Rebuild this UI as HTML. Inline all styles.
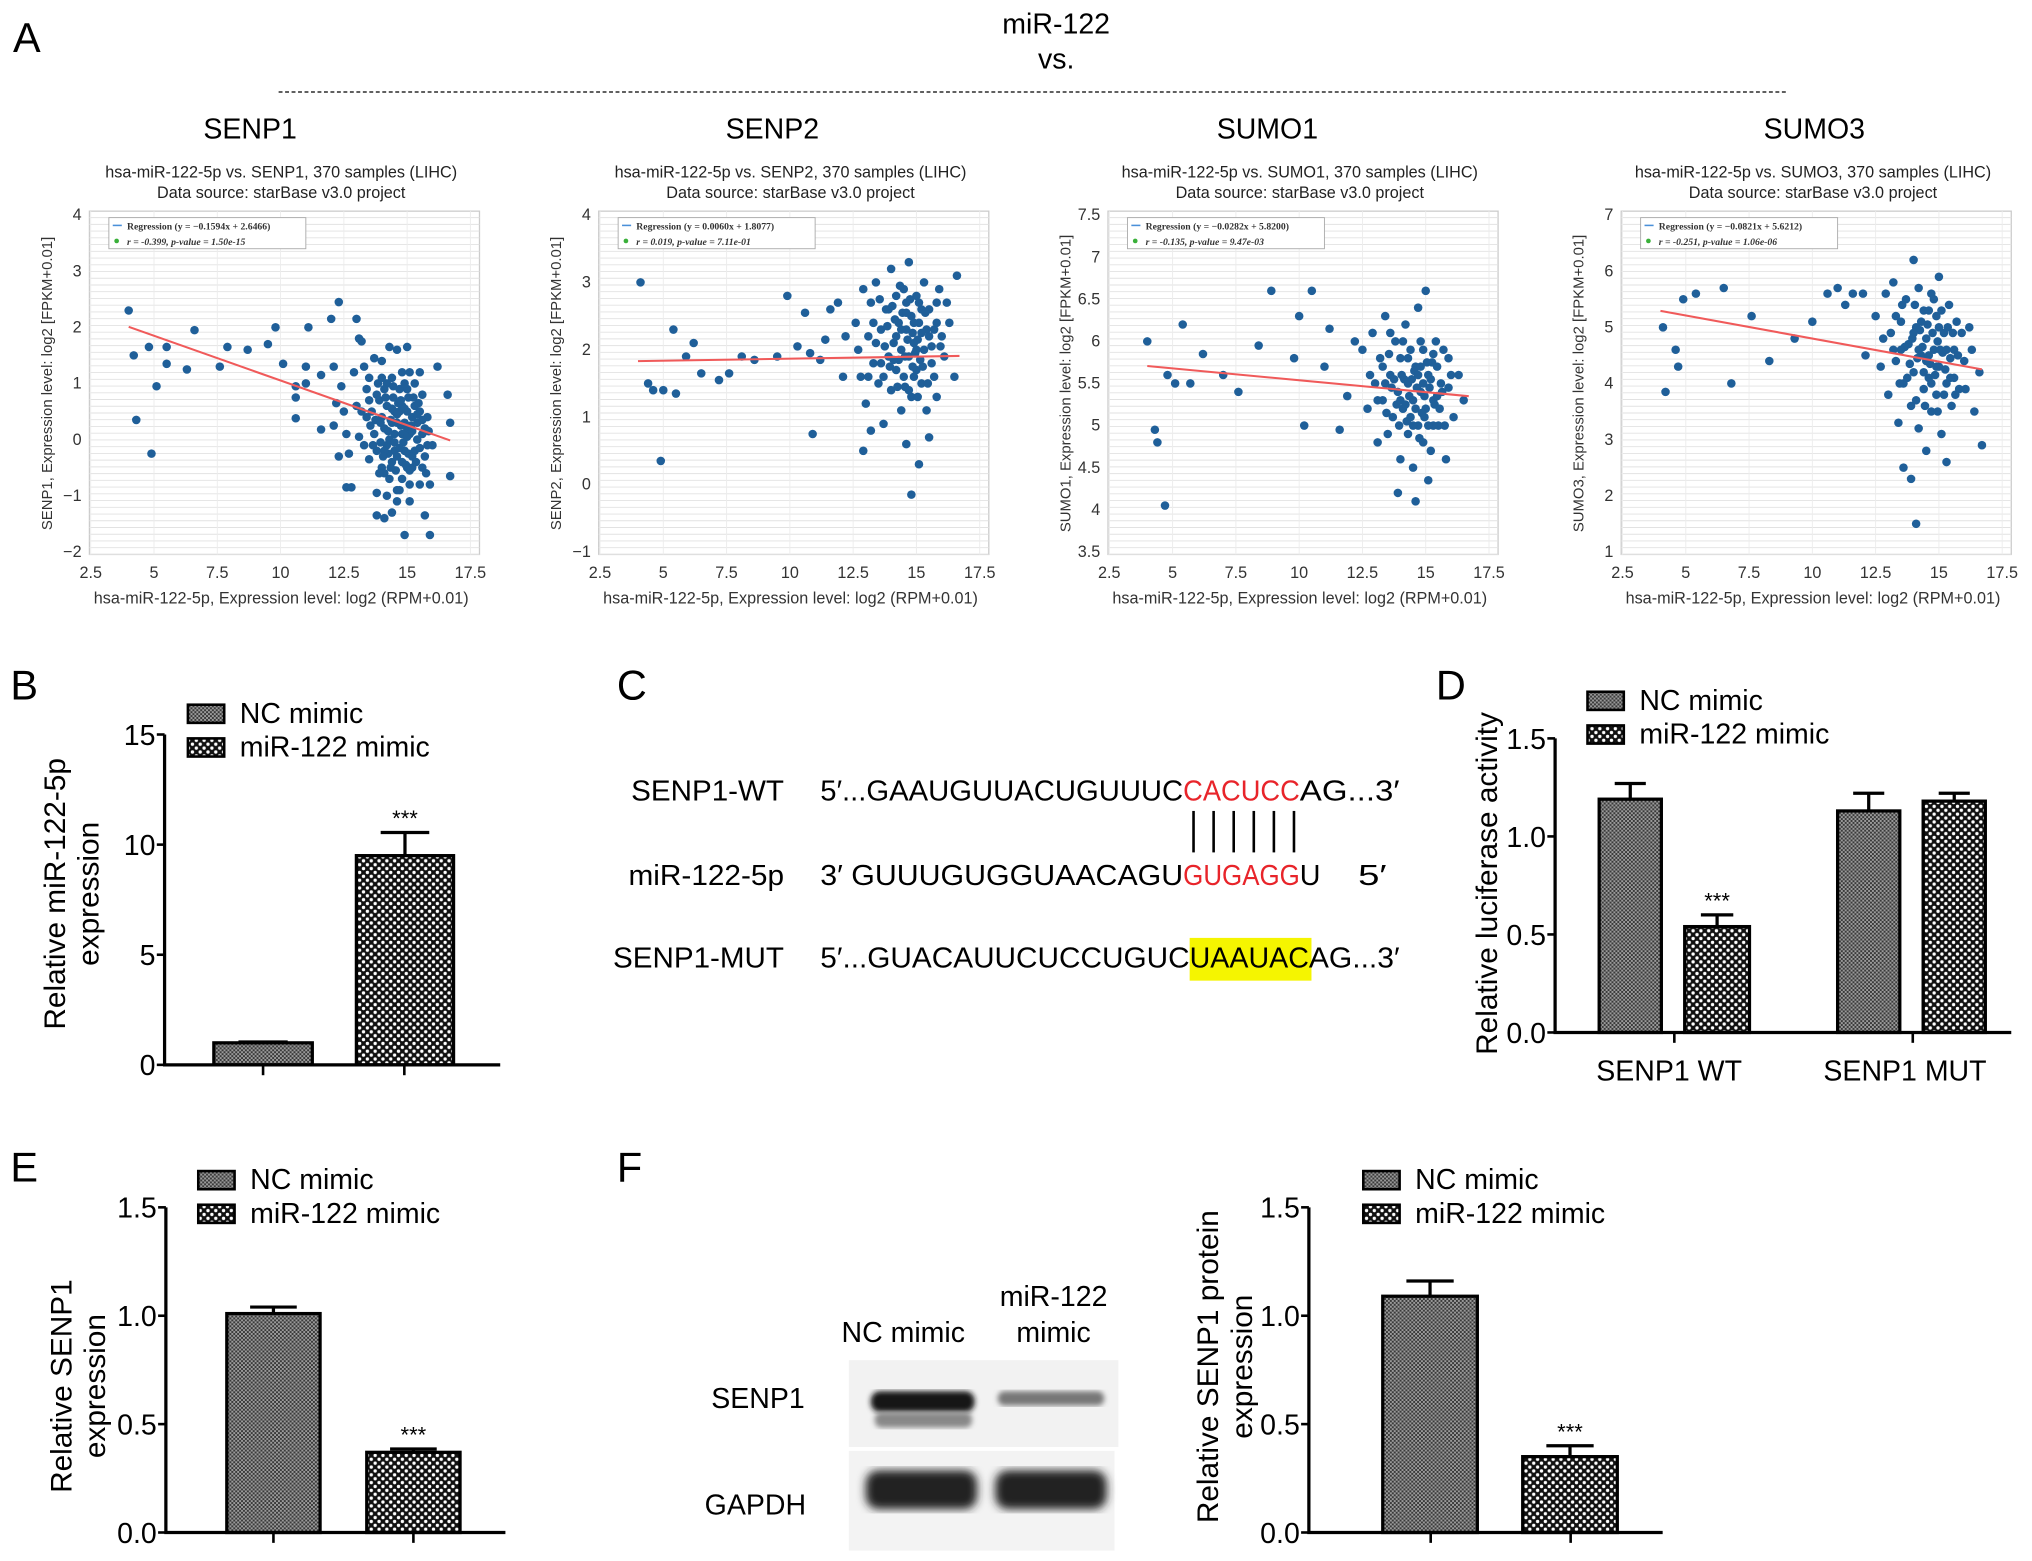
<!DOCTYPE html>
<html><head><meta charset="utf-8"><style>
html,body{margin:0;padding:0;background:#fff;}
svg{display:block;font-family:"Liberation Sans",Arial,sans-serif;}
</style></head><body>
<svg id="fig" width="2032" height="1561" viewBox="0 0 1568 1205" preserveAspectRatio="none" xmlns="http://www.w3.org/2000/svg">
<defs>
<pattern id="patNC" width="3" height="3" patternUnits="userSpaceOnUse">
<rect width="3" height="3" fill="#9a9a9a"/><rect width="1.5" height="1.5" fill="#3a3a3a"/><rect x="1.5" y="1.5" width="1.5" height="1.5" fill="#3a3a3a"/>
</pattern>
<pattern id="patMIR" width="6" height="6" patternUnits="userSpaceOnUse">
<rect width="6" height="6" fill="#111"/><circle cx="1.5" cy="1.5" r="1.3" fill="#fff"/><circle cx="4.5" cy="4.5" r="1.3" fill="#fff"/>
</pattern>
<filter id="blur2"><feGaussianBlur stdDeviation="3.5"/></filter>
<filter id="blur1"><feGaussianBlur stdDeviation="2"/></filter>
</defs>
<g id="root"></g>
</svg>
<script>
// ---------- scatter data ----------
const p1Pts=[4,2.3,4.2,1.5,4.3,0.35,4.8,1.65,4.9,-0.25,5.1,0.95,5.5,1.65,5.5,1.35,6.3,1.25,6.6,1.95,7.6,1.3,7.9,1.65,8.7,1.6,9.5,1.7,9.8,2.0,10.1,1.35,10.6,0.95,10.6,0.75,10.6,0.38,11.0,1.3,11.0,1.0,11.1,2.0,11.6,1.15,11.6,0.18,12.0,2.15,12.1,1.3,12.3,2.45,12.2,0.65,12.1,0.25,12.4,0.95,12.5,0.5,12.6,0.1,12.3,-0.3,12.7,-0.25,12.6,-0.85,12.8,-0.85,13.0,2.15,13.1,1.8,13.2,1.75,12.9,1.2,13.0,0.6,13.1,0.05,13.3,1.3,13.4,0.4,13.5,-0.35,13.7,1.45,13.8,0.8,13.8,-0.95,13.8,-1.35,14.0,1.4,14.1,-0.6,14.2,1.0,14.1,-1.4,14.2,-1.0,14.3,1.65,14.4,0.3,14.5,-0.2,14.4,-1.3,14.6,1.6,14.6,-0.9,14.7,0.5,14.8,1.2,14.8,-0.4,14.9,-1.7,15.0,1.65,15.0,0.9,15.0,0.2,15.1,-1.1,15.2,-0.5,15.3,0.6,15.4,0.3,15.5,1.2,15.5,-0.8,15.6,0.8,15.7,-0.3,15.8,0.4,15.7,-1.35,15.9,-1.7,15.9,-0.8,16.0,-0.1,16.2,1.3,16.6,0.8,16.7,0.3,16.7,-0.65,
13.6,0.5,13.7,0.1,13.8,-0.2,13.9,0.7,14.0,0.4,14.0,-0.5,14.1,0.9,14.1,0.2,14.2,-0.1,14.2,0.6,14.3,-0.7,14.3,0.0,14.4,1.1,14.4,-0.4,14.5,0.5,14.5,0.1,14.6,-0.3,14.6,0.3,14.7,0.9,14.7,-0.9,14.8,0.1,14.8,0.6,14.9,-0.2,14.9,1.0,15.0,-0.5,15.0,0.5,15.1,0.1,15.1,-0.8,15.2,0.4,15.3,-0.2,15.3,1.0,15.4,0.0,15.5,0.5,15.6,-0.5,15.7,0.2,15.8,-0.1,13.4,0.9,13.3,-0.1,13.2,0.5,13.5,1.1,14.35,0.35,14.65,0.65,14.25,-0.25,14.55,-0.55,14.85,-0.05,15.15,0.25,14.45,0.75,14.75,0.25,15.05,-0.25,13.95,-0.05,14.4,0.55,14.9,0.3,15.2,-0.3,14.1,-0.2,13.75,0.35,15.45,0.65,15.6,0.1,
13.5,0.7,13.65,-0.1,13.85,1.0,13.95,0.3,14.05,-0.3,14.15,0.75,14.25,0.15,14.35,-0.5,14.45,0.95,14.5,-0.05,14.6,0.45,14.7,-0.15,14.75,0.7,14.8,-0.7,14.9,0.55,14.95,-0.45,15.0,0.05,15.05,0.75,15.1,-0.55,15.2,0.15,15.25,0.75,15.35,-0.4,15.4,0.45,15.5,-0.15,15.6,0.35,15.75,-0.6,15.85,0.15,13.55,0.25,14.0,1.1,15.1,1.2,13.9,-0.6,14.6,-1.1];
const p2Pts=[4.1,3.0,4.4,1.5,4.6,1.4,5.0,1.4,4.9,0.35,5.4,2.3,5.5,1.35,5.9,1.9,6.2,2.1,6.5,1.65,7.2,1.55,7.6,1.65,8.1,1.9,8.6,1.85,9.5,1.9,9.9,2.8,10.3,2.05,10.6,2.55,10.8,1.95,10.9,0.75,11.2,1.85,11.4,2.15,11.6,2.6,11.9,2.7,12.1,1.6,12.2,2.2,
12.6,2.4,12.8,1.6,12.9,2.9,13.0,1.2,13.1,2.2,13.2,2.7,13.3,1.8,13.4,3.0,13.5,1.5,13.6,2.3,13.7,0.9,13.8,2.6,13.9,1.9,14.0,3.2,14.0,1.4,14.1,2.1,14.2,2.8,14.2,1.7,14.3,2.4,14.4,1.1,14.4,2.0,14.5,2.9,14.5,1.6,14.6,2.3,14.6,0.6,14.7,1.9,14.7,3.3,14.8,2.5,14.8,1.3,14.9,2.1,15.0,2.8,15.0,1.7,15.1,0.3,15.1,2.4,15.2,1.5,15.3,2.0,15.3,3.0,15.4,1.1,15.5,2.6,15.6,1.8,15.7,2.3,15.8,1.3,15.9,2.9,16.1,1.9,16.3,2.4,16.5,1.6,16.6,3.1,14.8,-0.15,14.3,1.85,14.65,2.15,14.95,1.95,14.15,2.45,14.85,2.25,15.15,1.85,13.75,2.05,14.45,2.55,15.05,2.15,13.95,1.75,14.55,1.45,12.9,0.5,13.2,0.8,15.5,0.7,13.3,2.4,13.6,1.8,14.2,2.2,14.9,1.6,15.4,2.3,16.0,2.2,15.8,2.7,13.9,2.6,14.6,2.7,15.2,2.6,
13.4,2.1,13.55,2.75,13.7,1.6,13.85,2.35,14.05,2.65,14.1,1.85,14.25,1.45,14.35,2.95,14.4,2.3,14.55,1.9,14.6,2.55,14.7,1.4,14.75,2.75,14.85,1.75,14.9,2.4,15.0,2.0,15.05,1.3,15.1,2.7,15.2,2.25,15.25,1.75,15.35,2.55,15.45,1.5,15.5,2.2,15.6,2.05,15.7,1.6,15.8,2.4,15.95,2.05,16.2,2.7,13.1,1.6,12.7,2.0];
const p3Pts=[4.0,6.0,4.3,4.95,4.4,4.8,4.8,5.6,4.7,4.05,5.1,5.5,5.4,6.2,5.7,5.5,6.2,5.85,7.0,5.6,7.6,5.4,8.4,5.95,8.9,6.6,9.8,5.8,10.0,6.3,10.2,5.0,10.5,6.6,11.0,5.7,11.2,6.15,11.6,4.95,11.9,5.35,12.2,6.0,
12.5,5.9,12.7,5.2,12.9,6.1,13.0,5.5,13.1,4.8,13.2,5.8,13.3,5.3,13.4,6.3,13.5,4.9,13.6,5.6,13.7,5.1,13.8,6.0,13.9,5.4,14.0,4.6,14.0,5.8,14.1,5.2,14.2,6.2,14.3,5.5,14.3,4.9,14.4,5.9,14.5,5.3,14.5,4.5,14.6,5.7,14.7,5.0,14.7,6.4,14.8,5.4,14.9,5.9,14.9,4.8,15.0,5.2,15.0,6.6,15.1,5.6,15.2,4.7,15.3,5.3,15.4,6.0,15.5,5.0,15.6,5.5,15.8,4.6,15.9,5.8,16.1,5.1,16.3,5.6,16.5,5.3,14.35,5.35,14.65,5.45,14.95,5.35,14.15,5.55,14.85,5.15,15.15,5.45,13.85,5.25,14.55,5.65,15.25,5.75,13.65,5.45,14.25,5.05,15.45,5.35,14.6,4.1,13.9,4.2,15.1,4.35,13.4,5.5,14.0,5.3,14.8,5.7,15.3,5.0,15.7,5.9,14.4,5.1,13.6,6.1,
13.45,5.15,13.55,5.85,13.75,5.55,13.95,5.0,14.05,5.6,14.1,6.0,14.2,5.25,14.3,5.8,14.45,5.55,14.5,5.0,14.6,5.2,14.7,5.6,14.75,4.85,14.8,6.0,14.9,5.5,14.95,5.1,15.05,5.75,15.1,5.0,15.2,5.55,15.3,5.85,15.35,5.25,15.45,5.7,15.55,5.2,15.65,5.4,15.75,5.0,15.9,5.45,16.0,5.6,13.3,5.7,13.1,5.3,12.8,5.6];
const p4Pts=[4.1,5.0,4.2,3.85,4.6,4.6,4.7,4.3,4.9,5.5,5.4,5.6,6.5,5.7,6.8,4.0,7.6,5.2,8.3,4.4,9.3,4.8,10.0,5.1,10.6,5.6,11.0,5.7,11.3,5.4,11.6,5.6,12.0,5.6,12.1,4.5,
12.5,5.2,12.7,4.3,12.9,5.6,13.0,3.8,13.1,4.9,13.2,5.8,13.3,4.4,13.4,3.3,13.5,5.1,13.6,4.0,13.7,5.5,13.8,4.7,13.9,3.6,14.0,6.2,14.0,4.2,14.1,5.0,14.2,3.2,14.2,5.7,14.3,4.5,14.4,3.9,14.4,5.3,14.5,4.8,14.5,2.8,14.6,4.1,14.7,5.6,14.7,3.5,14.8,4.6,14.9,5.2,14.9,3.8,15.0,4.3,15.0,5.9,15.1,3.1,15.2,4.9,15.3,4.0,15.4,5.4,15.5,3.6,15.6,4.6,15.7,5.1,15.8,3.9,16.0,4.4,16.2,5.0,16.4,3.5,16.6,4.2,16.7,2.9,14.35,4.65,14.65,4.35,14.95,4.75,14.15,4.45,14.85,4.15,15.15,4.55,13.85,4.35,14.55,5.05,15.25,4.25,13.65,4.65,14.25,4.95,15.45,4.45,13.6,2.5,13.9,2.3,14.1,1.5,15.3,2.6,13.5,4.6,14.0,4.9,14.6,4.5,15.0,5.0,15.6,4.1,14.4,4.2,13.2,4.6,
13.45,4.0,13.55,5.4,13.75,4.1,13.95,4.8,14.05,5.4,14.1,3.7,14.2,4.6,14.3,5.1,14.45,3.6,14.5,4.4,14.6,5.3,14.7,4.0,14.75,4.9,14.8,5.5,14.9,4.3,14.95,3.5,15.05,4.6,15.1,5.3,15.2,3.8,15.3,4.6,15.35,5.0,15.45,4.1,15.55,4.9,15.65,3.8,15.75,4.5,15.9,4.9,16.05,3.9,16.3,4.6,13.3,5.2,12.8,4.8];
const regSlopes=[-0.1594,0.0060,-0.0282,-0.0821];
const regIntercepts=[2.6466,1.8077,5.8200,5.6212];
const genes=["SENP1","SENP2","SUMO1","SUMO3"];
const statText=["r = -0.399, p-value = 1.50e-15","r = 0.019, p-value = 7.11e-01","r = -0.135, p-value = 9.47e-03","r = -0.251, p-value = 1.06e-06"];
const yMins=[-2,-1,3.5,1];
const yMaxs=[4,4,7.5,7];
const yTickLists=[[-2,-1,0,1,2,3,4],[-1,0,1,2,3,4],[3.5,4,4.5,5,5.5,6,6.5,7,7.5],[1,2,3,4,5,6,7]];
const xTicks=[2.5,5,7.5,10,12.5,15,17.5];
// ---------- bar data ----------
const bCats=["NC mimic","miR-122 mimic"], bVals=[1.0,9.5], bErrs=[0.04,1.05];
const dCats=["SENP1 WT","SENP1 MUT"], dNC=[1.19,1.13], dNCerr=[0.08,0.09], dMIR=[0.54,1.18], dMIRerr=[0.06,0.04];
const eVals=[1.01,0.37], eErrs=[0.03,0.015];
const fVals=[1.09,0.35], fErrs=[0.07,0.05];

const NS="http://www.w3.org/2000/svg";
const root=document.getElementById('root');
function el(tag,attrs,parent,txt){const e=document.createElementNS(NS,tag);for(const k in attrs)e.setAttribute(k,attrs[k]);if(txt!==undefined)e.textContent=txt;(parent||root).appendChild(e);return e;}
function fmt(v){return (v<0?'\u2212':'')+Math.abs(v);}

let t;
t=el('text',{x:10,y:40,'font-size':32},root,'A');

t=el('text',{x:815,y:26,'font-size':22,'text-anchor':'middle'},root,'miR-122');

t=el('text',{x:815,y:53,'font-size':22,'text-anchor':'middle'},root,'vs.');

t=el('line',{x1:215,y1:71,x2:1380,y2:71,stroke:'#000','stroke-width':1,'stroke-dasharray':'3,2'});


const offsets=[0,393,786,1182];
const titleX=[193,596,978,1400];
for(let i=0;i<4;i++){
  const ox=offsets[i];
  const g=el('g',{});
  
  const X=v=>ox+70+(v-2.5)/15*293;
  const Y=v=>426-(v-yMins[i])/(yMaxs[i]-yMins[i])*260;
  t=el('text',{x:titleX[i],y:107,'font-size':22,'text-anchor':'middle'},g,genes[i]);
  
  t=el('text',{x:ox+217,y:137,'font-size':12.5,'text-anchor':'middle',fill:'#222'},g,'hsa-miR-122-5p vs. '+genes[i]+', 370 samples (LIHC)');
  
  t=el('text',{x:ox+217,y:153,'font-size':12.5,'text-anchor':'middle',fill:'#222'},g,'Data source: starBase v3.0 project');
  
  const bx0=ox+69,bx1=ox+370,by0=163,by1=428;
  t=el('rect',{x:bx0,y:by0,width:bx1-bx0,height:by1-by0,fill:'#fff',stroke:'#ccc','stroke-width':1},g);
  
  for(let yy=by0+5;yy<by1;yy+=5.2){el('line',{x1:bx0,x2:bx1,y1:yy,y2:yy,stroke:'#e2e2e2','stroke-width':0.7},g);}
  for(const v of xTicks){el('line',{x1:X(v),x2:X(v),y1:by0,y2:by1,stroke:'#ececec','stroke-width':0.7},g);}
  for(const v of xTicks){
    t=el('text',{x:X(v),y:446,'font-size':12.5,'text-anchor':'middle',fill:'#333'},g,String(v));
    
  }
  for(const v of yTickLists[i]){
    t=el('text',{x:ox+63,y:Y(v)+4,'font-size':12.5,'text-anchor':'end',fill:'#333'},g,fmt(v));
    
  }
  t=el('text',{x:ox+217,y:466,'font-size':12.5,'text-anchor':'middle',fill:'#333'},g,'hsa-miR-122-5p, Expression level: log2 (RPM+0.01)');
  
  t=el('text',{x:0,y:0,'font-size':11.5,'text-anchor':'middle',fill:'#333',transform:`translate(${ox+40},${296}) rotate(-90)`},g,genes[i]+', Expression level: log2 [FPKM+0.01]');
  
  const pts=[p1Pts,p2Pts,p3Pts,p4Pts][i];
  for(let k=0;k<pts.length;k+=2){
    t=el('circle',{cx:X(pts[k]),cy:Y(pts[k+1]),r:3.3,fill:'#1f5f99'},g);
    
  }
  t=el('line',{x1:X(4),y1:Y(regSlopes[i]*4+regIntercepts[i]),x2:X(16.7),y2:Y(regSlopes[i]*16.7+regIntercepts[i]),stroke:'#f05a5a','stroke-width':1.6},g);
  
  const lg=el('g',{},g);
  
  el('rect',{x:ox+84,y:168,width:152,height:24,fill:'#fff',stroke:'#aaa','stroke-width':0.7},lg);
  el('line',{x1:ox+87,x2:ox+94,y1:174,y2:174,stroke:'#4a90d9','stroke-width':1.2},lg);
  el('text',{x:ox+98,y:177,'font-size':7.5,'font-family':'Liberation Serif','font-weight':'bold',fill:'#333'},lg,'Regression (y = '+(regSlopes[i]<0?'\u2212':'')+Math.abs(regSlopes[i]).toFixed(4)+'x + '+regIntercepts[i].toFixed(4)+')');
  el('circle',{cx:ox+90,cy:186,r:1.8,fill:'#3ab03a'},lg);
  el('text',{x:ox+98,y:189,'font-size':7.5,'font-family':'Liberation Serif','font-style':'italic','font-weight':'bold',fill:'#333'},lg,statText[i]);
}

function barChart(o){
  const g=el('g',{});
  
  const Y=v=>o.y0-(v/o.max)*(o.y0-o.y1);
  o.bars.forEach(b=>{
    const r=el('rect',{x:b.x,y:Y(b.v),width:b.w,height:o.y0-Y(b.v),fill:b.fill,stroke:'#000','stroke-width':2.5},g);
    
    const cx=b.x+b.w/2;
    const eb=el('path',{d:`M${cx},${Y(b.v)} V${Y(b.v+b.e)} M${cx-b.w/4},${Y(b.v+b.e)} H${cx+b.w/4}`,stroke:'#000','stroke-width':2.5,fill:'none'},g);
    
    if(b.star){const s=el('text',{x:cx,y:Y(b.v+b.e)-5,'font-size':17,'text-anchor':'middle'},g,'***');
      }
  });
  const ax=el('path',{d:`M${o.ax},${o.y1} V${o.y0} H${o.xEnd}`,stroke:'#000','stroke-width':2.5,fill:'none'},g);
  
  o.ticks.forEach((v,k)=>{
    el('line',{x1:o.ax-6,x2:o.ax,y1:Y(v),y2:Y(v),stroke:'#000','stroke-width':2},g);
    const tl=el('text',{x:o.ax-7,y:Y(v)+8,'font-size':22,'text-anchor':'end'},g,o.tickLabels[k]);
    
  });
  o.xticks.forEach(x=>el('line',{x1:x,x2:x,y1:o.y0,y2:o.y0+8,stroke:'#000','stroke-width':2},g));
  (o.xlabels||[]).forEach(l=>{const tl=el('text',{x:l.x,y:o.y0+37,'font-size':22,'text-anchor':'middle'},g,l.t);
    });
  o.ytitle.forEach((line,k)=>{
    const tt=el('text',{x:0,y:0,'font-size':23,'text-anchor':'middle',transform:`translate(${o.tx+k*26},${o.ty}) rotate(-90)`},g,line);
    
  });
  const lg=el('g',{},g);
  
  [['patNC','NC mimic'],['patMIR','miR-122 mimic']].forEach((p,k)=>{
    const yy=o.ly+k*26;
    const r=el('rect',{x:o.lx,y:yy-13,width:28,height:14,fill:'url(#'+p[0]+')',stroke:'#000','stroke-width':2},lg);
    
    const tl=el('text',{x:o.lx+40,y:yy+1,'font-size':22},lg,p[1]);
    
  });
  return g;
}
function lbl(s,x,y,name){const e=el('text',{x:x,y:y,'font-size':32},root,s);}
lbl('B',8,540,'panel-b-label');lbl('C',476,540,'panel-c-label');lbl('D',1108,540,'panel-d-label');
lbl('E',8,912,'panel-e-label');lbl('F',476,912,'panel-f-label');

barChart({name:'chart-b',ax:127,y0:822,y1:567,max:15,xEnd:386,ticks:[0,5,10,15],tickLabels:['0','5','10','15'],
  bars:[{id:'bar-nc',x:165,w:76,v:bVals[0],e:bErrs[0],fill:'url(#patNC)'},{id:'bar-mir',x:275,w:75,v:bVals[1],e:bErrs[1],fill:'url(#patMIR)',star:true}],
  xticks:[203,312],ytitle:['Relative miR-122-5p','expression'],tx:50,ty:690,lx:145,ly:557});

barChart({name:'chart-d',ax:1200,y0:797,y1:570,max:1.5,xEnd:1552,ticks:[0,0.5,1,1.5],tickLabels:['0.0','0.5','1.0','1.5'],
  bars:[{id:'bar-wt-nc',x:1234,w:48,v:dNC[0],e:dNCerr[0],fill:'url(#patNC)'},{id:'bar-wt-mir',x:1300,w:50,v:dMIR[0],e:dMIRerr[0],fill:'url(#patMIR)',star:true},
        {id:'bar-mut-nc',x:1418,w:48,v:dNC[1],e:dNCerr[1],fill:'url(#patNC)'},{id:'bar-mut-mir',x:1484,w:48,v:dMIR[1],e:dMIRerr[1],fill:'url(#patMIR)'}],
  xticks:[1292,1476],xlabels:[{x:1288,t:dCats[0]},{x:1470,t:dCats[1]}],ytitle:['Relative luciferase activity'],tx:1155,ty:682,lx:1225,ly:547});

barChart({name:'chart-e',ax:128,y0:1183,y1:932,max:1.5,xEnd:390,ticks:[0,0.5,1,1.5],tickLabels:['0.0','0.5','1.0','1.5'],
  bars:[{id:'bar-nc',x:175,w:72,v:eVals[0],e:eErrs[0],fill:'url(#patNC)'},{id:'bar-mir',x:283,w:72,v:eVals[1],e:eErrs[1],fill:'url(#patMIR)',star:true}],
  xticks:[211,319],ytitle:['Relative SENP1','expression'],tx:55,ty:1070,lx:153,ly:917});

barChart({name:'chart-f',ax:1010,y0:1183,y1:932,max:1.5,xEnd:1283,ticks:[0,0.5,1,1.5],tickLabels:['0.0','0.5','1.0','1.5'],
  bars:[{id:'bar-nc',x:1067,w:73,v:fVals[0],e:fErrs[0],fill:'url(#patNC)'},{id:'bar-mir',x:1175,w:73,v:fVals[1],e:fErrs[1],fill:'url(#patMIR)',star:true}],
  xticks:[1104,1212],ytitle:['Relative SENP1 protein','expression'],tx:940,ty:1055,lx:1052,ly:917});

// ---------- Panel C sequences ----------
const cg=el('g',{'font-size':22});

function seg(x,y,w,s,fill,name){const e=el('text',{x:x,y:y,textLength:w,lengthAdjust:'spacingAndGlyphs',fill:fill||'#000'},cg,s);return e;}
seg(487,618,118,'SENP1-WT','#000','label-senp1-wt');
seg(633,618,280,'5\u2032...GAAUGUUACUGUUUC','#000','wt-sequence');
seg(913,618,90,'CACUCC','#e8242a','wt-seed-site');
seg(1003,618,77,'AG...3\u2032','#000','wt-sequence-end');
for(let k=0;k<6;k++){el('line',{x1:921+k*15.5,x2:921+k*15.5,y1:626,y2:658,stroke:'#000','stroke-width':2},cg);}
seg(485,683,120,'miR-122-5p','#000','label-mir-122-5p');
seg(633,683,280,'3\u2032 GUUUGUGGUAACAGU','#000','mir-sequence');
seg(913,683,90,'GUGAGG','#e8242a','mir-seed');
seg(1003,683,16,'U','#000','mir-sequence-u');
seg(1048,683,22,'5\u2032','#000','mir-5prime');
const hl=el('rect',{x:918,y:724,width:94,height:33,fill:'#f5f500'},cg);

seg(473,747,132,'SENP1-MUT','#000','label-senp1-mut');
seg(633,747,285,'5\u2032...GUACAUUCUCCUGUC','#000','mut-sequence');
seg(918,747,92,'UAAUAC','#000','mut-site');
seg(1010,747,70,'AG...3\u2032','#000','mut-sequence-end');

// ---------- Panel F western blot ----------
const wb=el('g',{});

el('rect',{x:655,y:1050,width:208,height:67,fill:'#f2f2f2'},wb);
el('rect',{x:655,y:1120,width:205,height:77,fill:'#f3f3f3'},wb);
el('rect',{x:672,y:1074,width:80,height:16,rx:7,fill:'#151515',filter:'url(#blur1)'},wb);
el('rect',{x:675,y:1090,width:75,height:12,rx:5,fill:'#888',filter:'url(#blur1)'},wb);
el('rect',{x:770,y:1074,width:82,height:11,rx:5,fill:'#777',filter:'url(#blur1)'},wb);
el('rect',{x:668,y:1135,width:86,height:30,rx:10,fill:'#222',filter:'url(#blur2)'},wb);
el('rect',{x:768,y:1135,width:86,height:30,rx:10,fill:'#222',filter:'url(#blur2)'},wb);
[[697,1036,'NC mimic'],[813,1008,'miR-122'],[813,1036,'mimic']].forEach(a=>{const e=el('text',{x:a[0],y:a[1],'font-size':22,'text-anchor':'middle'},wb,a[2]);});
[[621,1087,'SENP1'],[622,1169,'GAPDH']].forEach(a=>{const e=el('text',{x:a[0],y:a[1],'font-size':22,'text-anchor':'end'},wb,a[2]);});
</script>
</body></html>
